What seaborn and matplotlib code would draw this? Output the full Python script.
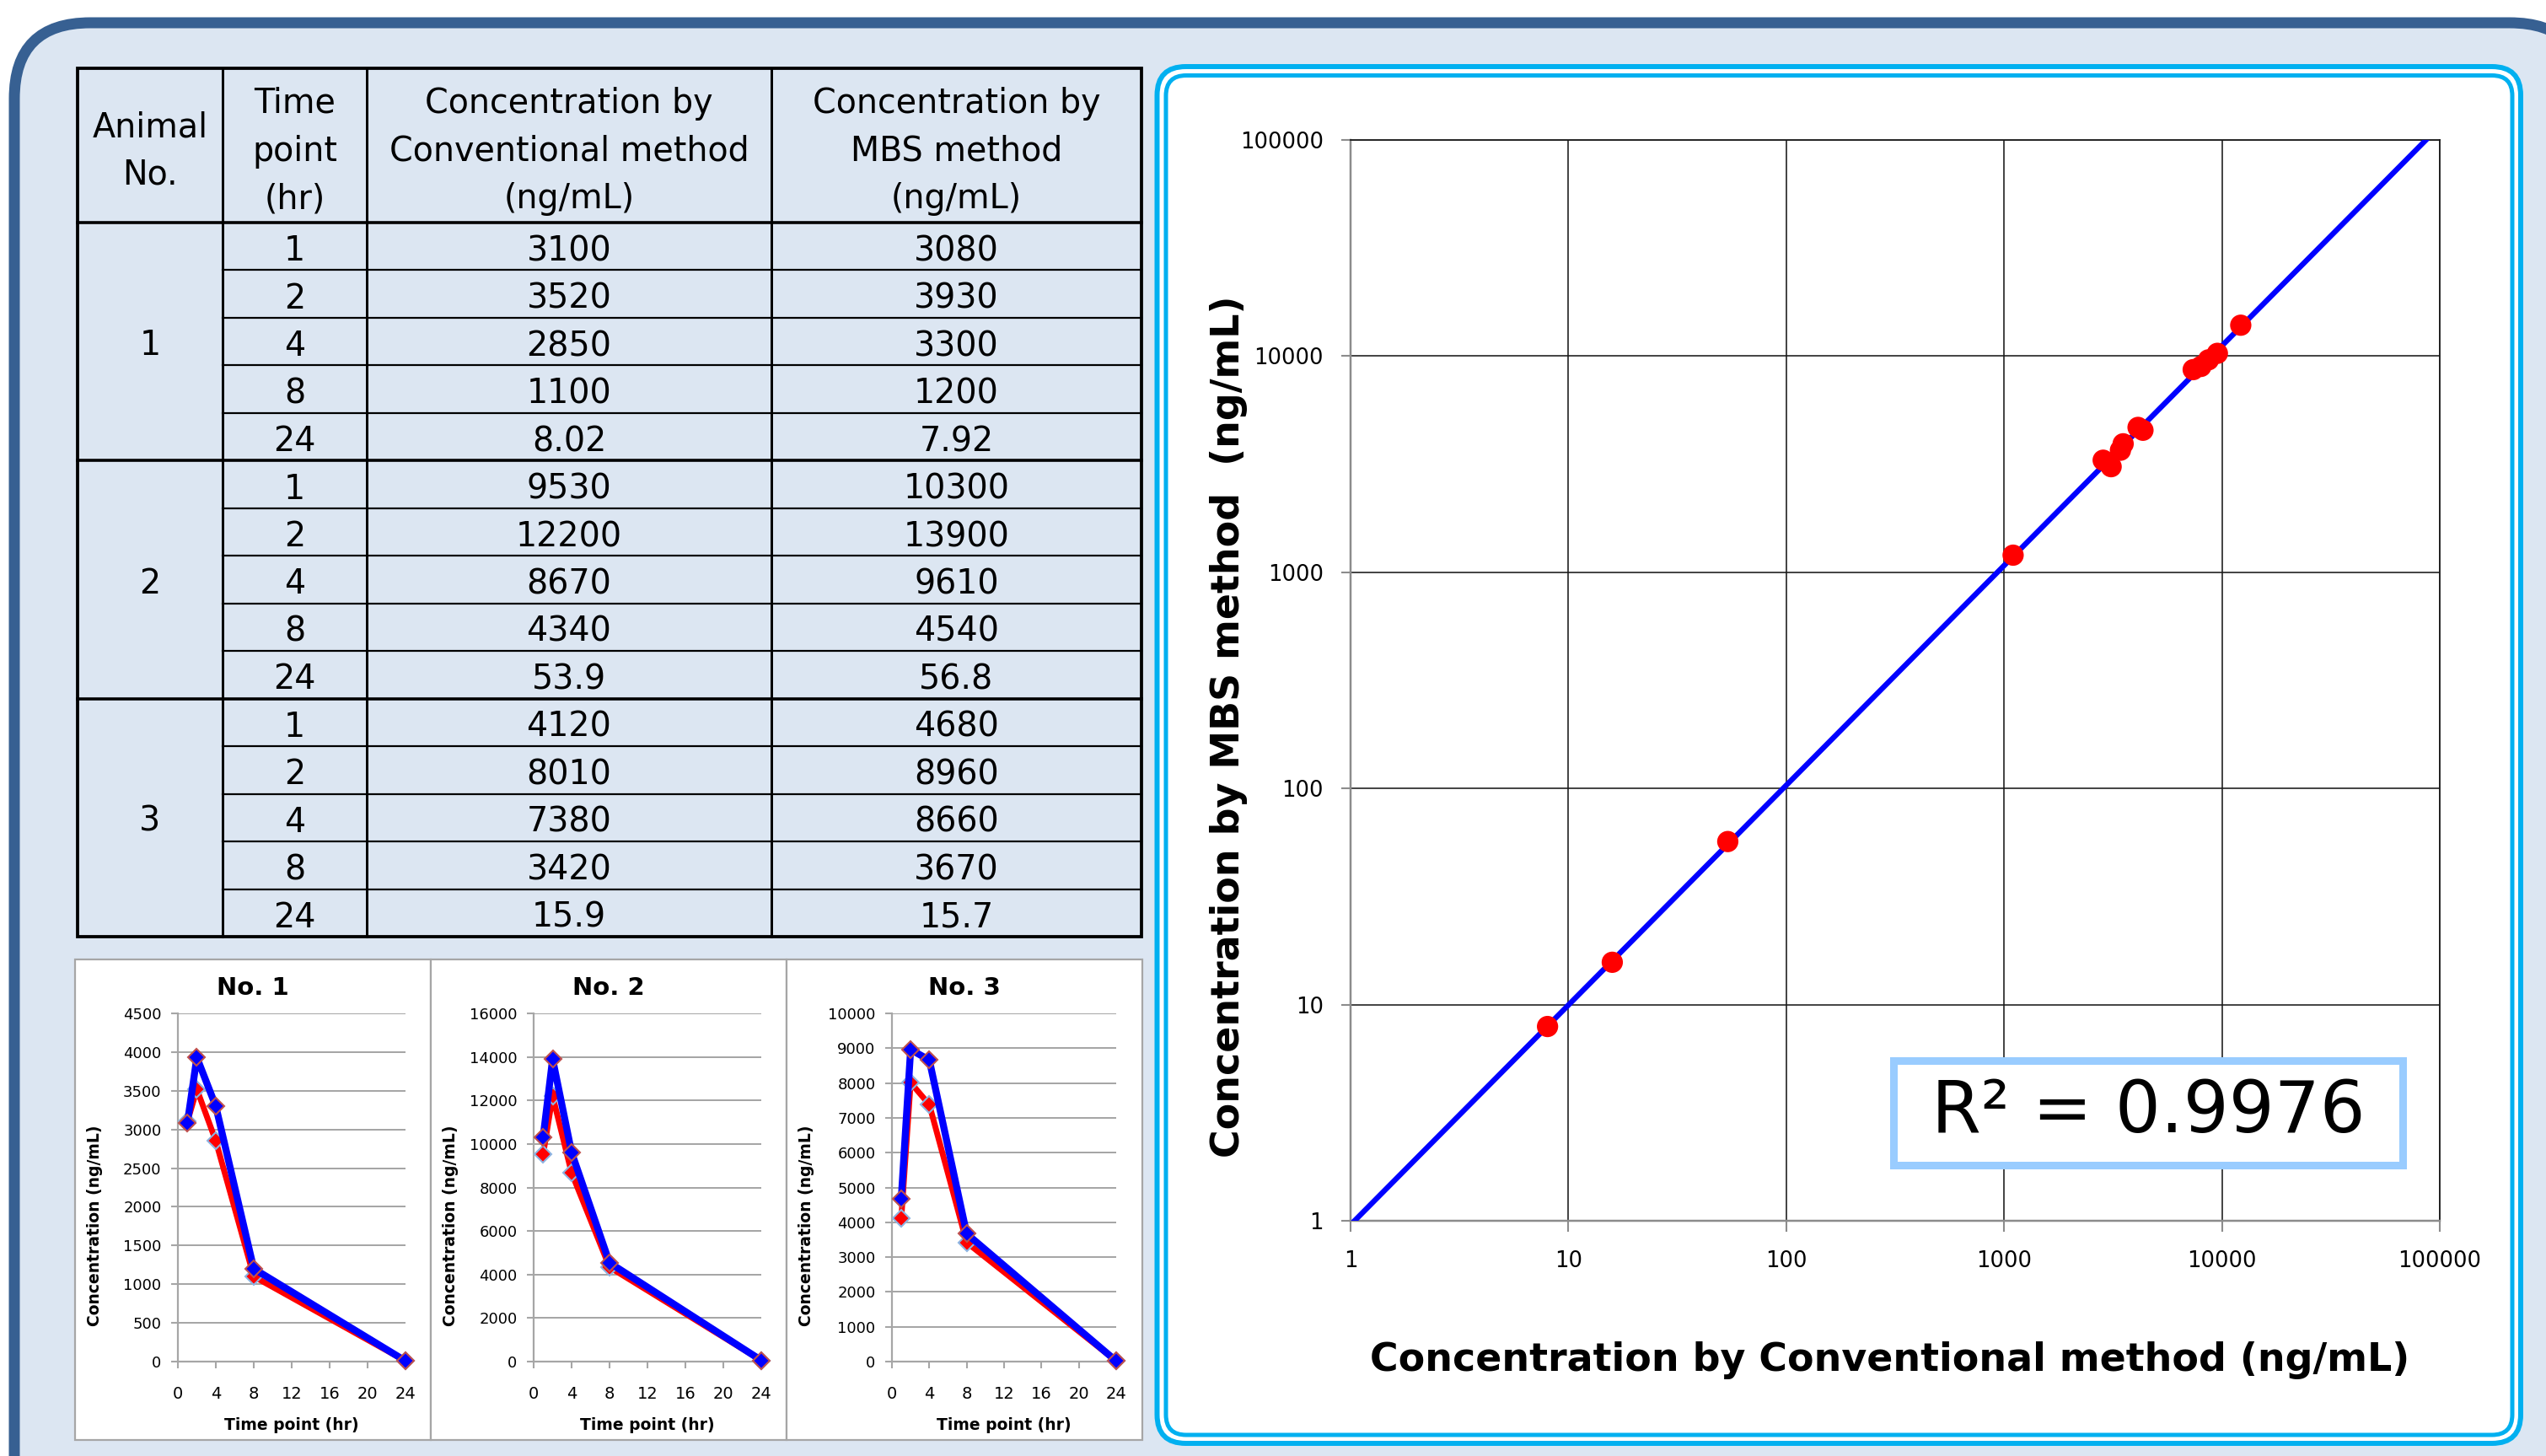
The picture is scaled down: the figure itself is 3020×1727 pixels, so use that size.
import numpy as np
import pandas as pd
import matplotlib
matplotlib.use("Agg")
import matplotlib.pyplot as plt
from matplotlib.patches import FancyBboxPatch, Rectangle
from matplotlib.ticker import FixedLocator, FuncFormatter, NullLocator
import seaborn as sns

# ---------------- data ----------------
animal_ids = [1, 2, 3]
time_points = [1, 2, 4, 8, 24]
conv_1 = [3100, 3520, 2850, 1100, 8.02]
mbs_1 = [3080, 3930, 3300, 1200, 7.92]
conv_2 = [9530, 12200, 8670, 4340, 53.9]
mbs_2 = [10300, 13900, 9610, 4540, 56.8]
conv_3 = [4120, 8010, 7380, 3420, 15.9]
mbs_3 = [4680, 8960, 8660, 3670, 15.7]
header_labels = ["Animal\nNo.", "Time\npoint\n(hr)",
                 "Concentration by\nConventional method\n(ng/mL)",
                 "Concentration by\nMBS method\n(ng/mL)"]
small_titles = ["No. 1", "No. 2", "No. 3"]
small_ymax = [4500, 16000, 10000]
small_ystep = [500, 2000, 1000]
small_xticks = [0, 4, 8, 12, 16, 20, 24]
log_ticks = [1, 10, 100, 1000, 10000, 100000]
r2_label = "R² = 0.9976"
xlabel_main = "Concentration by Conventional method (ng/mL)"
ylabel_main = "Concentration by MBS method  (ng/mL)"
xlabel_small = "Time point (hr)"
ylabel_small = "Concentration (ng/mL)"

conv_all = [conv_1, conv_2, conv_3]
mbs_all = [mbs_1, mbs_2, mbs_3]

# ---------------- figure ----------------
W, H = 3020, 1727
fig = plt.figure(figsize=(W / 100, H / 100), dpi=100)
fig.patch.set_facecolor("white")
PX = 0.72  # points per pixel at 100 dpi


def ax_px(x0, y0, x1, y1, **kw):
    return fig.add_axes([x0 / W, 1 - y1 / H, (x1 - x0) / W, (y1 - y0) / H], **kw)


def ftext(x, y, s, **kw):
    return fig.text(x / W, 1 - y / H, s, **kw)


bg = fig.add_axes([0, 0, 1, 1])
bg.set_xlim(0, W)
bg.set_ylim(H, 0)
bg.axis("off")
bg.set_zorder(-5)

# outer rounded frame
bg.add_patch(FancyBboxPatch((17, 27), 3050, 1800,
                            boxstyle="round,pad=0,rounding_size=90",
                            fc="#DCE6F2", ec="#376092", lw=13 * PX))
# right panel double cyan frame
bg.add_patch(FancyBboxPatch((1372.5, 79), 2990 - 1372.5, 1712 - 79,
                            boxstyle="round,pad=0,rounding_size=34",
                            fc="white", ec="#00B0F0", lw=6 * PX))
bg.add_patch(FancyBboxPatch((1383, 89.5), 2980 - 1383, 1702 - 89.5,
                            boxstyle="round,pad=0,rounding_size=24",
                            fc="white", ec="#00B0F0", lw=5 * PX))

# ---------------- table ----------------
tx = [92, 264, 435, 915, 1354]
ty0, th1, ty1 = 81, 264, 1111
n_rows = len(animal_ids) * len(time_points)
rh = (ty1 - th1) / n_rows
tfont = dict(fontsize=28.5, color="black", family="DejaVu Sans", ha="center", va="center")

for j, lab in enumerate(header_labels):
    bg.text((tx[j] + tx[j + 1]) / 2, (ty0 + th1) / 2 + 7, lab, linespacing=1.54, **tfont)

r = 0
for a_i, aid in enumerate(animal_ids):
    g0 = th1 + a_i * len(time_points) * rh
    g1 = g0 + len(time_points) * rh
    bg.text((tx[0] + tx[1]) / 2, (g0 + g1) / 2 + 5, str(aid), **tfont)
    for k, t in enumerate(time_points):
        yc = th1 + (r + 0.5) * rh + 6
        bg.text((tx[1] + tx[2]) / 2, yc, f"{t:g}", **tfont)
        bg.text((tx[2] + tx[3]) / 2, yc, f"{conv_all[a_i][k]:g}", **tfont)
        bg.text((tx[3] + tx[4]) / 2, yc, f"{mbs_all[a_i][k]:g}", **tfont)
        r += 1
        if k < len(time_points) - 1:
            yl = th1 + r * rh
            bg.plot([tx[1], tx[4]], [yl, yl], color="black", lw=2.2 * PX)
    if a_i < len(animal_ids) - 1:
        yl = th1 + r * rh
        bg.plot([tx[0], tx[4]], [yl, yl], color="black", lw=3.6 * PX)

bg.plot([tx[0], tx[4]], [th1, th1], color="black", lw=3.6 * PX)
for xv in tx[1:-1]:
    bg.plot([xv, xv], [ty0, ty1], color="black", lw=3 * PX)
bg.add_patch(Rectangle((tx[0], ty0), tx[4] - tx[0], ty1 - ty0, fill=False,
                       ec="black", lw=3.8 * PX))

# ---------------- small PK charts ----------------
panel_x = [(89, 511), (511, 933), (933, 1355)]
panel_y = (1138, 1708)
axes_x = [(211, 481), (633, 903), (1058, 1324)]
axes_y = (1202, 1615)
sfont = "DejaVu Sans"

for i in range(3):
    px0, px1 = panel_x[i]
    bg.add_patch(Rectangle((px0, panel_y[0]), px1 - px0, panel_y[1] - panel_y[0],
                           fc="white", ec="#A6A6A6", lw=2.2 * PX))
    ax = ax_px(axes_x[i][0], axes_y[0], axes_x[i][1], axes_y[1])
    ax.set_facecolor("none")
    sns.lineplot(x=time_points, y=conv_all[i], ax=ax, color="#FF0000", lw=5,
                 marker="D", markersize=10, markeredgecolor="#8DB4E2",
                 markeredgewidth=1.5, estimator=None, sort=False, clip_on=False,
                 zorder=3)
    sns.lineplot(x=time_points, y=mbs_all[i], ax=ax, color="#0000FF", lw=6,
                 marker="D", markersize=10.5, markeredgecolor="#C0504D",
                 markeredgewidth=1.5, estimator=None, sort=False, clip_on=False,
                 zorder=4)
    ax.set_xlim(small_xticks[0], small_xticks[-1])
    ax.set_ylim(0, small_ymax[i])
    ax.set_xticks(small_xticks)
    ax.set_yticks(np.arange(0, small_ymax[i] + 1, small_ystep[i]))
    ax.yaxis.set_major_formatter(FuncFormatter(lambda v, p: f"{int(v)}"))
    ax.set_axisbelow(True)
    ax.yaxis.grid(True, color="#A6A6A6", lw=2 * PX)
    ax.xaxis.grid(False)
    for s in ["top", "right"]:
        ax.spines[s].set_visible(False)
    for s in ["left", "bottom"]:
        ax.spines[s].set_color("#A6A6A6")
        ax.spines[s].set_linewidth(2.2 * PX)
    ax.tick_params(axis="y", length=6, width=1.5, color="#A6A6A6", pad=8,
                   labelsize=13, labelcolor="black")
    ax.tick_params(axis="x", length=6, width=1.5, color="#A6A6A6", pad=15,
                   labelsize=14, labelcolor="black")
    for lab in ax.get_xticklabels() + ax.get_yticklabels():
        lab.set_family(sfont)
    ax.set_xlabel("")
    ax.set_ylabel("")
    cx = (px0 + px1) / 2
    ftext(cx, 1172, small_titles[i], fontsize=21, fontweight="bold",
          family=sfont, ha="center", va="center")
    ftext(px0 + 24, (axes_y[0] + axes_y[1]) / 2 + 45, ylabel_small, fontsize=13.5,
          fontweight="bold", family=sfont, rotation=90, ha="center", va="center")
    ftext((axes_x[i][0] + axes_x[i][1]) / 2, 1690, xlabel_small, fontsize=13.5,
          fontweight="bold", family=sfont, ha="center", va="center")

# ---------------- log-log correlation chart ----------------
axl = ax_px(1602, 166, 2894, 1448)
axl.set_facecolor("white")
axl.set_xscale("log")
axl.set_yscale("log")
axl.set_xlim(log_ticks[0], log_ticks[-1])
axl.set_ylim(log_ticks[0], log_ticks[-1])

df = pd.DataFrame({"conv": conv_1 + conv_2 + conv_3,
                   "mbs": mbs_1 + mbs_2 + mbs_3})
# power-law trend line fitted to the data
b, a = np.polyfit(np.log10(df["conv"]), np.log10(df["mbs"]), 1)
x_fit = np.array([log_ticks[0], log_ticks[-1]], dtype=float)
y_fit = 10 ** (a + b * np.log10(x_fit))
sns.lineplot(x=x_fit, y=y_fit, ax=axl, color="#0000FF", lw=4.6, zorder=3,
             solid_capstyle="round")
sns.scatterplot(data=df, x="conv", y="mbs", ax=axl, color="#FF0000", s=330,
                edgecolor="none", zorder=4)
axl.set_xlim(log_ticks[0], log_ticks[-1])
axl.set_ylim(log_ticks[0], log_ticks[-1])

for axis in (axl.xaxis, axl.yaxis):
    axis.set_major_locator(FixedLocator(log_ticks))
    axis.set_minor_locator(NullLocator())
    axis.set_major_formatter(FuncFormatter(lambda v, p: f"{int(round(v))}"))
axl.set_axisbelow(True)
axl.grid(True, which="major", color="#1A1A1A", lw=1.6 * PX)
for s in ["top", "right"]:
    axl.spines[s].set_color("#1A1A1A")
    axl.spines[s].set_linewidth(1.8 * PX)
for s in ["left", "bottom"]:
    axl.spines[s].set_color("#8C8C8C")
    axl.spines[s].set_linewidth(2.5 * PX)
axl.tick_params(axis="y", length=8, width=1.5, color="#8C8C8C", pad=15,
                labelsize=18.5, labelcolor="black")
axl.tick_params(axis="x", length=9, width=1.5, color="#8C8C8C", pad=16,
                labelsize=18.5, labelcolor="black")
for lab in axl.get_xticklabels() + axl.get_yticklabels():
    lab.set_family("DejaVu Sans")
axl.set_xlabel("")
axl.set_ylabel("")

ftext(2242, 1614, xlabel_main, fontsize=33, fontweight="bold",
      family="DejaVu Sans", ha="center", va="center")
ftext(1458, 862, ylabel_main, fontsize=33, fontweight="bold",
      family="DejaVu Sans", rotation=90, ha="center", va="center")

# R² box
axr = ax_px(2246, 1258, 2850, 1382)
axr.set_facecolor("white")
axr.set_xticks([])
axr.set_yticks([])
for s in axr.spines.values():
    s.set_color("#99CCFF")
    s.set_linewidth(9 * PX)
axr.text(0.5, 0.5, r2_label, transform=axr.transAxes, fontsize=61,
         family="DejaVu Sans", ha="center", va="center")

fig.savefig("out.png", dpi=100, facecolor="white")
